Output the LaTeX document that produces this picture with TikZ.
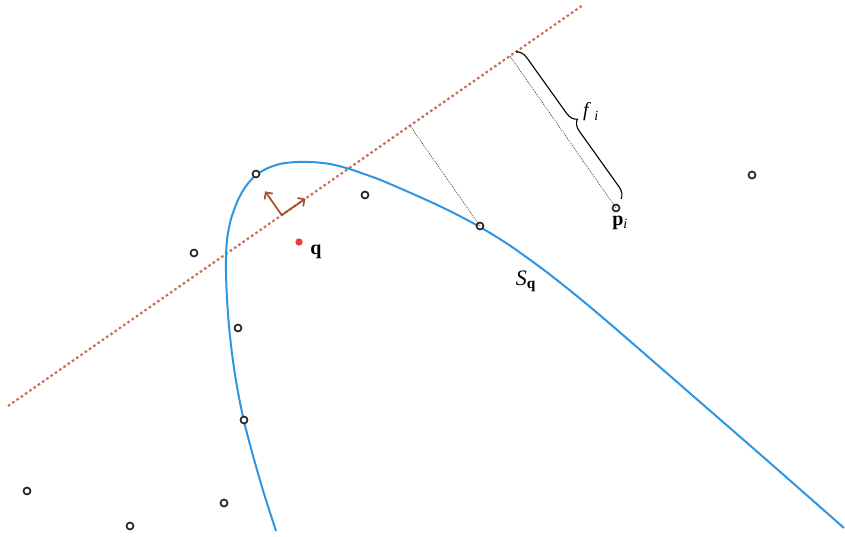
\documentclass[tikz,border=0pt]{standalone}
\usepackage{fontspec}
\setmainfont{Liberation Serif}
\usetikzlibrary{calc,arrows.meta,decorations.pathreplacing}
\definecolor{curveblue}{RGB}{45,150,228}
\definecolor{lineorange}{RGB}{200,112,88}
\definecolor{framebrown}{RGB}{168,84,52}
\definecolor{qred}{RGB}{238,58,58}
\tikzset{
  sample/.style={circle,draw=black!85,fill=white,line width=1.7pt,minimum size=7pt,inner sep=0pt},
  planeline/.style={draw=lineorange,line width=2.2pt,dash pattern=on 2.6pt off 2.6pt},
  surf/.style={draw=curveblue,line width=2pt},
  proj/.style={draw=black!80,line width=0.6pt,dash pattern=on 1pt off 1pt},
  framearrow/.style={draw=framebrown,line width=1.8pt,-{Straight Barb[length=5pt,width=10pt,line width=1.8pt]}},
  lbl/.style={font=\fontsize{20}{22}\selectfont,inner sep=0pt},
  bracestyle/.style={draw=black,line width=1.1pt,decorate,decoration={brace,amplitude=11pt}}
}
\begin{document}
\begin{tikzpicture}[x=1pt,y=-1pt]
\useasboundingbox (0,0) rectangle (845,536);
% plane line
\coordinate (LA) at (8,406);
\coordinate (LB) at (583,5);
\draw[planeline] (LA) -- (LB);
% surface curve
\draw[surf] plot[smooth,tension=0.5] coordinates {
  (276,531) (263.5,492) (253.1,456) (243.7,420) (236.7,385) (232.2,355)
  (228.9,325) (226.8,295) (225.9,265) (227,240) (231,219) (238,200)
  (246,186) (256,175) (268,168) (282,163.5) (298,162) (314,162.2)
  (330,164) (348,168.5) (365,174.3) (383,181) (421,197.5) (450,211.1)
  (480,227) (510,245.6) (545,270.8) (575,294.5) (600,315.3) (633,343.7)
  (700,402) (767,460.3) (844,528)};
% sample points
\node[sample] (a1) at (256,174) {};
\node[sample] (a2) at (365,195) {};
\node[sample] (a3) at (194,253) {};
\node[sample] (a4) at (480,226) {};
\node[sample] (pi) at (616,208) {};
\node[sample] (a6) at (752,175) {};
\node[sample] (a7) at (238,328) {};
\node[sample] (a8) at (244,420) {};
\node[sample] (a9) at (27,491) {};
\node[sample] (a10) at (224,503) {};
\node[sample] (a11) at (130,526) {};
% projections
\coordinate (f4) at ($(LA)!(a4)!(LB)$);
\coordinate (fp) at ($(LA)!(pi)!(LB)$);
\draw[proj] (a4.center) -- (f4);
\draw[proj] (pi.center) -- (fp);
% brace
\coordinate (bA) at (516,52);
\coordinate (bB) at (621,199);
\draw[bracestyle] (bA) -- (bB);
\node[lbl] (flabel) at (591,112) {\textit{f}\,\textsubscript{\textit{i}}};
% local frame
\coordinate (O) at ($(LA)!0.476!(LB)$);
\draw[framearrow] (O) -- ($(O)!29pt!(LB)$);
\draw[framearrow] (O) -- ($(O)!29pt!90:(LB)$);
% query point
\fill[qred] (299,242) circle (3.6pt);
\node[lbl] (qlabel) at (316,252) {\textbf{q}};
\node[lbl] (plabel) at (620,223) {\textbf{p}\textsubscript{\textit{i}}};
\node[lbl] (slabel) at (526,281) {\fontsize{22}{24}\selectfont\textit{S}\textsubscript{\textbf{q}}};
\end{tikzpicture}
\end{document}
